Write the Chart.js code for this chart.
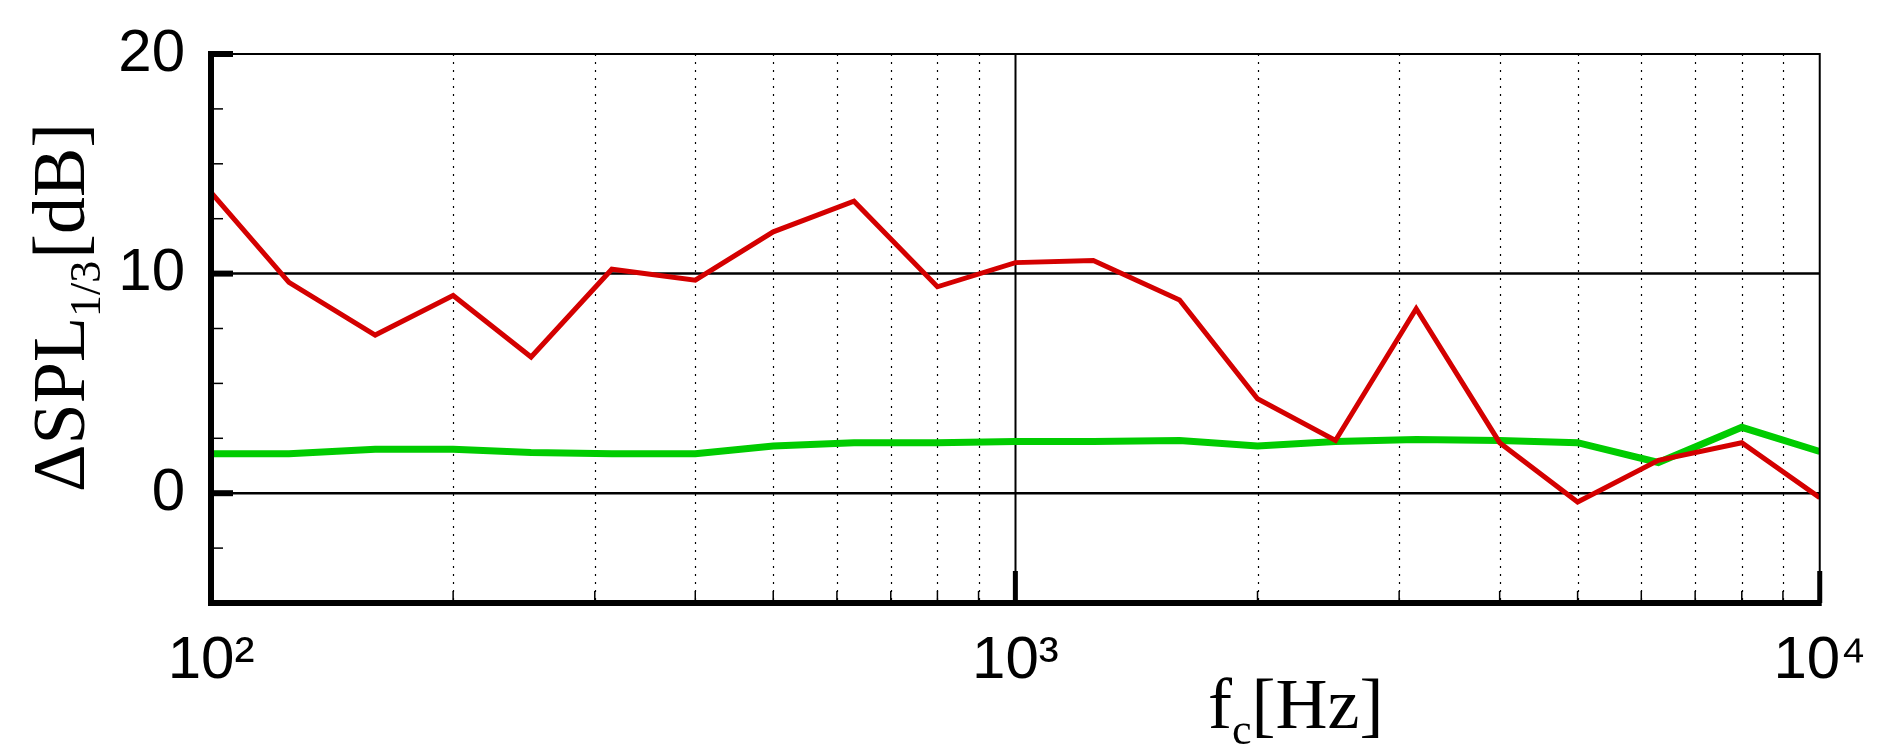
<!DOCTYPE html>
<html>
<head>
<meta charset="utf-8">
<script src="https://cdn.jsdelivr.net/npm/chart.js@4"></script>
<style>
  html, body { margin: 0; padding: 0; background: #fff; }
  #wrap { width: 1880px; height: 755px; }
</style>
</head>
<body>
<div id="wrap"><canvas id="c"></canvas></div>
<script>
// 1/3 octave centre frequencies
const freqs = [100, 125, 160, 200, 250, 315, 400, 500, 630, 800, 1000, 1250, 1600, 2000, 2500, 3150, 4000, 5000, 6300, 8000, 10000];
const redVals = [13.7, 9.6, 7.2, 9.0, 6.2, 10.2, 9.7, 11.9, 13.3, 9.4, 10.5, 10.6, 8.8, 4.3, 2.4, 8.4, 2.3, -0.4, 1.5, 2.3, -0.2];
const greenVals = [1.8, 1.8, 2.0, 2.0, 1.85, 1.8, 1.8, 2.15, 2.3, 2.3, 2.35, 2.35, 2.4, 2.15, 2.35, 2.45, 2.4, 2.3, 1.4, 3.0, 1.9];
const xTicks = [100, 200, 300, 400, 500, 600, 700, 800, 900, 1000, 2000, 3000, 4000, 5000, 6000, 7000, 8000, 9000, 10000];
const xLabels = { 100: '10²', 1000: '10³', 10000: '10⁴' };
const yMajor = [0, 10, 20];

const pts = vals => freqs.map((f, i) => ({ x: f, y: vals[i] }));
const tickFont = { family: '"Liberation Sans Narrow", "Liberation Sans"', size: 60 };

const decor = {
  id: 'decor',
  beforeDatasetsDraw(chart) {
    const { ctx, chartArea: a, scales: { x, y } } = chart;
    ctx.save();
    // vertical grid
    xTicks.forEach(v => {
      const px = Math.round(x.getPixelForValue(v)) + 0.5;
      if (v === 100 || v === 10000) return;
      ctx.beginPath();
      if (v === 1000) { ctx.setLineDash([]); ctx.lineWidth = 2; }
      else { ctx.setLineDash([2, 6]); ctx.lineWidth = 1.2; }
      ctx.strokeStyle = '#000';
      ctx.moveTo(px, a.top); ctx.lineTo(px, a.bottom);
      ctx.stroke();
    });
    ctx.setLineDash([]);
    // horizontal grid at majors
    [0, 10].forEach(v => {
      const py = y.getPixelForValue(v);
      ctx.beginPath(); ctx.lineWidth = 2.5;
      ctx.moveTo(a.left, py); ctx.lineTo(a.right, py); ctx.stroke();
    });
    ctx.restore();
  },
  afterDatasetsDraw(chart) {
    const { ctx, chartArea: a, scales: { x, y } } = chart;
    ctx.save();
    ctx.strokeStyle = '#000';
    // frame
    ctx.lineWidth = 2;
    ctx.beginPath();
    ctx.moveTo(a.left, a.top); ctx.lineTo(a.right, a.top); ctx.lineTo(a.right, a.bottom);
    ctx.stroke();
    ctx.lineWidth = 6;
    ctx.beginPath();
    ctx.moveTo(a.left, a.top - 3); ctx.lineTo(a.left, a.bottom); ctx.lineTo(a.right + 2, a.bottom);
    ctx.stroke();
    // y ticks
    for (let v = -5; v <= 20; v += 2.5) {
      const py = y.getPixelForValue(v);
      const major = yMajor.includes(v);
      ctx.lineWidth = major ? 6 : 1.5;
      ctx.beginPath(); ctx.moveTo(a.left, py); ctx.lineTo(a.left + (major ? 22 : 12), py); ctx.stroke();
    }
    // x ticks
    xTicks.forEach(v => {
      const px = x.getPixelForValue(v);
      const major = xLabels[v] !== undefined;
      ctx.lineWidth = major ? 5 : 1.5;
      ctx.beginPath(); ctx.moveTo(px, a.bottom); ctx.lineTo(px, a.bottom - (major ? 32 : 12)); ctx.stroke();
    });
    // axis titles
    ctx.fillStyle = '#000';
    ctx.textBaseline = 'alphabetic';
    let tx = 1208, ty = 728;
    ctx.font = '72px "Liberation Serif"';
    ctx.fillText('f', tx, ty);
    tx += ctx.measureText('f').width;
    ctx.font = '44px "Liberation Serif"';
    ctx.fillText('c', tx, ty + 16);
    tx += ctx.measureText('c').width;
    ctx.font = '72px "Liberation Serif"';
    ctx.fillText('[Hz]', tx, ty);
    // y title rotated
    ctx.translate(84, 492);
    ctx.rotate(-Math.PI / 2);
    ctx.font = '74px "Liberation Serif"';
    let sx = 0;
    ctx.fillText('ΔSPL', sx, 0);
    sx += ctx.measureText('ΔSPL').width;
    ctx.font = '44px "Liberation Serif"';
    ctx.fillText('1/3', sx, 16);
    sx += ctx.measureText('1/3').width + 2;
    ctx.font = '74px "Liberation Serif"';
    ctx.fillText('[dB]', sx, 0);
    ctx.restore();
  }
};

new Chart(document.getElementById('c'), {
  type: 'line',
  data: {
    datasets: [
      { data: pts(redVals), borderColor: '#d40000', borderWidth: 5, pointRadius: 0, tension: 0 },
      { data: pts(greenVals), borderColor: '#00cc00', borderWidth: 7, pointRadius: 0, tension: 0 }
    ]
  },
  options: {
    responsive: true,
    maintainAspectRatio: false,
    animation: false,
    layout: { padding: { top: 48, right: 57, left: 0, bottom: 0 } },
    plugins: { legend: { display: false }, tooltip: { enabled: false } },
    scales: {
      x: {
        type: 'logarithmic', min: 100, max: 10000,
        grid: { display: false }, border: { display: false },
        afterBuildTicks: s => { s.ticks = xTicks.map(v => ({ value: v })); },
        afterFit: s => { s.height = 152; },
        ticks: {
          autoSkip: false, maxRotation: 0, padding: 14,
          color: '#000', font: tickFont,
          callback: v => xLabels[v] || ''
        }
      },
      y: {
        min: -5, max: 20,
        grid: { display: false }, border: { display: false },
        afterBuildTicks: s => { s.ticks = yMajor.map(v => ({ value: v })); },
        afterFit: s => { s.width = 211; },
        ticks: {
          padding: 18, color: '#000', font: tickFont,
          callback: v => String(v)
        }
      }
    }
  },
  plugins: [decor]
});
</script>
</body>
</html>
